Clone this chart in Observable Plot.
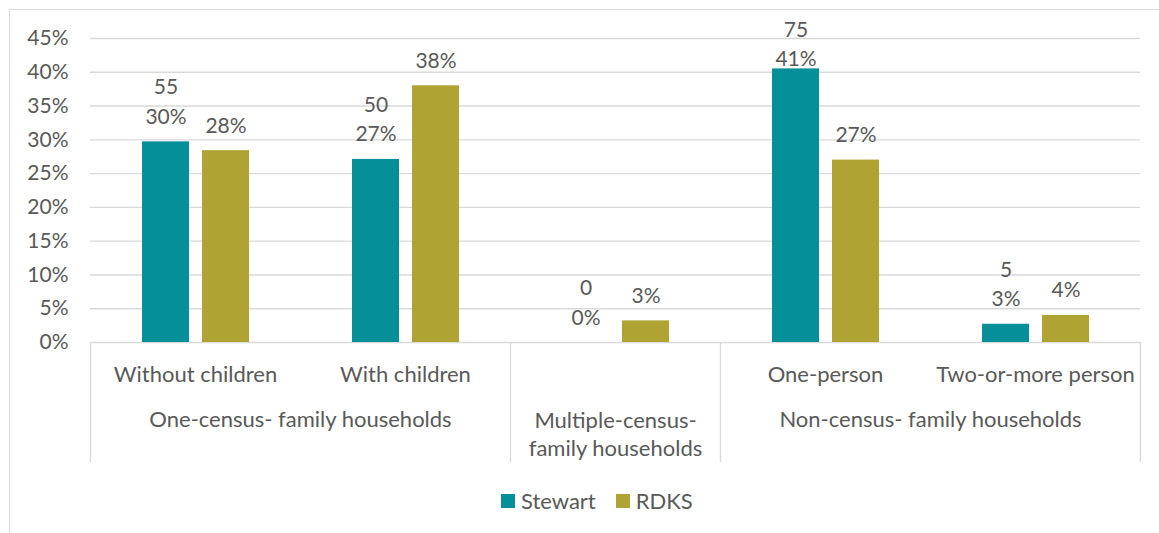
<!DOCTYPE html>
<html>
<head>
<meta charset="utf-8">
<script src="https://cdn.jsdelivr.net/npm/d3@7"></script>
<script src="https://cdn.jsdelivr.net/npm/@observablehq/plot@0.6"></script>
<style>
  html, body { margin: 0; padding: 0; background: #fff; }
  body { width: 1159px; height: 533px; position: relative; overflow: hidden; font-family: Lato, "Open Sans", sans-serif; }
  #frame { position: absolute; left: 9px; top: 9px; width: 1300px; height: 700px; border-left: 1px solid #d9d9d9; border-top: 1px solid #d9d9d9; }
  #chart { position: absolute; left: 0; top: 0; }
  #legend { position: absolute; left: 501px; top: 484px; }
  #legend span { margin-right: 20px !important; }
  #legend span > svg { margin-right: 6px !important; }
</style>
</head>
<body>
<div id="frame"></div>
<div id="chart"></div>
<div id="legend"></div>
<script>
// ---- data ----
const categories = ["Without children", "With children", "Multiple-census-family households", "One-person", "Two-or-more person"];
const tickLabels = ["Without children", "With children", "", "One-person", "Two-or-more person"];
const series = ["Stewart", "RDKS"];
const seriesColors = ["#048f99", "#aea333"];
const stewartPct = [29.7, 27.1, 0, 40.5, 2.7];
const stewartCount = [55, 50, 0, 75, 5];
const stewartLabel = ["30%", "27%", "0%", "41%", "3%"];
const rdksPct = [28.4, 38.0, 3.2, 27.0, 4.0];
const rdksLabel = ["28%", "38%", "3%", "27%", "4%"];
const yTicks = [0, 5, 10, 15, 20, 25, 30, 35, 40, 45];
const groupLabels = ["One-census- family households", "Multiple-census-\nfamily households", "Non-census- family households"];
const groupFirstCategory = ["Without children", "Multiple-census-family households", "One-person"];
const groupSpan = [2, 1, 2];
const groupEndCategory = ["Two-or-more person"];

// ---- build table ----
const rows = [];
categories.forEach((c, i) => {
  rows.push({cat: c, series: "Stewart", value: stewartPct[i], label: stewartCount[i] + "\n" + stewartLabel[i]});
  rows.push({cat: c, series: "RDKS", value: rdksPct[i], label: rdksLabel[i]});
});
const groups = groupLabels.map((g, i) => ({label: g, cat: groupFirstCategory[i], span: groupSpan[i]}));
const sepStart = groupFirstCategory.map(c => ({cat: c}));
const sepEnd = groupEndCategory.map(c => ({cat: c}));

// ---- layout ----
const W = 1159, H = 475, mL = 90, mR = 19, mT = 38, mB = 133;
const facetW = (W - mL - mR) / categories.length;
const plotH = H - mT - mB;
const textColor = "#595959";
const gridColor = "#d9d9d9";
const fsNum = 21, fsCat = 22;
const font = "Lato, 'Open Sans', sans-serif";
// labels whose two-line block would run past the chart's top edge are pushed down (as the source does)
const fitsAbove = d => !(d.series === "Stewart" && d.value > 39);

const chart = Plot.plot({
  width: W, height: H,
  marginLeft: mL, marginRight: mR, marginTop: mT, marginBottom: mB,
  style: {fontFamily: font, fontSize: fsNum + "px", color: textColor, background: "transparent"},
  fx: {domain: categories, padding: 0},
  x: {domain: series, paddingInner: 0.222, paddingOuter: 0.861, axis: null},
  y: {domain: [0, 45]},
  color: {domain: series, range: seriesColors},
  marks: [
    Plot.ruleY(yTicks, {stroke: gridColor, strokeWidth: 1.4}),
    Plot.axisY({ticks: yTicks, tickFormat: d => d + "%", tickSize: 0, tickPadding: 22, label: null, fontSize: fsNum, fill: textColor}),
    Plot.axisFx({anchor: "bottom", tickSize: 0, tickPadding: 24, label: null, fontSize: fsCat, fill: textColor,
      tickFormat: d => tickLabels[categories.indexOf(d)]}),
    Plot.barY(rows, {fx: "cat", x: "series", y: "value", fill: "series"}),
    Plot.text(rows, {filter: fitsAbove, fx: "cat", x: "series", y: "value", text: "label", lineAnchor: "bottom", dy: -18, lineHeight: 1.4, fill: textColor, fontSize: fsNum}),
    Plot.text(rows, {filter: d => !fitsAbove(d), fx: "cat", x: "series", y: "value", text: "label", lineAnchor: "bottom", dy: -3, lineHeight: 1.4, fill: textColor, fontSize: fsNum}),
    Plot.text(groups.filter(g => g.span === 2), {fx: "cat", text: "label", frameAnchor: "bottom", dx: facetW / 2, dy: 69, lineAnchor: "top", fill: textColor, fontSize: fsCat}),
    Plot.text(groups.filter(g => g.span === 1), {fx: "cat", text: "label", frameAnchor: "bottom", dy: 65, lineAnchor: "top", lineHeight: 1.3, fill: textColor, fontSize: fsCat}),
    Plot.ruleX(sepStart, {fx: "cat", x: null, dx: -facetW / 2, insetTop: plotH, insetBottom: -120, stroke: gridColor, strokeWidth: 1.4}),
    Plot.ruleX(sepEnd, {fx: "cat", x: null, dx: facetW / 2, insetTop: plotH, insetBottom: -120, stroke: gridColor, strokeWidth: 1.4})
  ]
});
document.getElementById("chart").appendChild(chart);

const legend = Plot.legend({
  color: {domain: series, range: seriesColors},
  swatchSize: 14,
  style: {fontFamily: font, fontSize: fsCat + "px", color: textColor}
});
document.getElementById("legend").appendChild(legend);
</script>
</body>
</html>
